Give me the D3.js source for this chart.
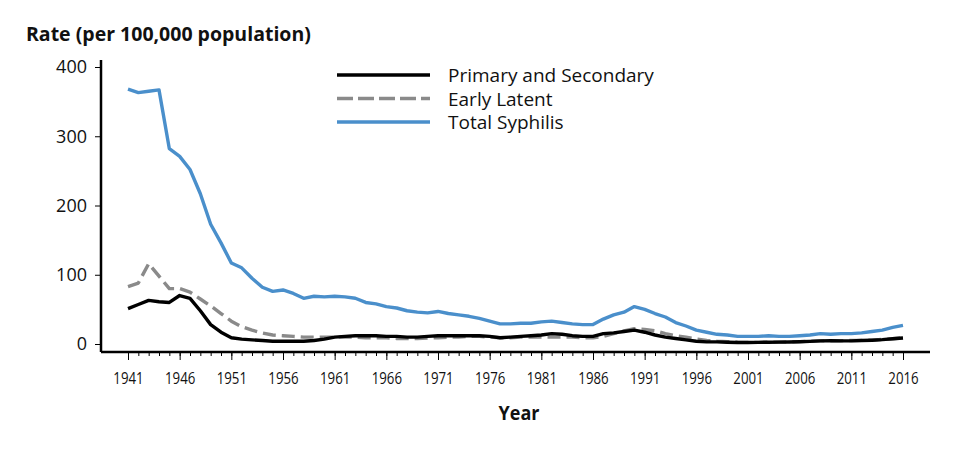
<!DOCTYPE html>
<html>
<head>
<meta charset="utf-8">
<script src="https://cdn.jsdelivr.net/npm/d3@7"></script>
<style>
body { margin: 0; background: #fff; }
text { font-family: "Open Sans", "Noto Sans", sans-serif; fill: #111; }
</style>
</head>
<body>
<svg id="chart" width="960" height="450"></svg>
<script>
// rates per 100,000, 1941-2016
var years = d3.range(1941, 2017);
var primarySecondary = [51, 57, 63, 61, 60, 70, 66, 48, 28, 17, 9, 7, 6, 5, 4, 4, 4, 4, 5, 7,
  10, 11, 12, 12, 12, 11, 11, 10, 10, 11, 12, 12, 12, 12, 12, 11, 9, 10, 11, 12,
  13, 15, 14, 12, 11, 11, 15, 16, 18, 20, 17, 13, 10, 8, 6, 4, 3, 3, 2.5, 2.1,
  2.1, 2.4, 2.5, 2.7, 2.9, 3.3, 3.8, 4.5, 4.6, 4.5, 4.5, 5, 5.5, 6.3, 7.5, 8.7];
var earlyLatent = [83, 88, 116, 98, 80, 80, 75, 65, 55, 44, 33, 25, 20, 16, 13, 12, 11, 10, 10, 10,
  10, 10, 10, 9, 9, 9, 8, 8, 8, 8.5, 9, 10, 10, 11, 11, 10, 9, 9, 10, 10,
  10, 10, 10, 10, 9, 9, 11, 15, 19, 22, 21, 19, 15, 12, 10, 7, 5, 4, 3.5, 2.7,
  2.4, 2.3, 2.5, 2.8, 3, 3.5, 4, 4.5, 4.7, 4.8, 5, 5.2, 5.5, 6.5, 7.5, 9];
var totalSyphilis = [368, 363, 365, 367, 282, 271, 252, 217, 173, 146, 117, 110, 95, 82, 76, 78, 73, 66, 69, 68,
  69, 68, 66, 60, 58, 54, 52, 48, 46, 45, 47, 44, 42, 40, 37, 33, 29, 29, 30, 30,
  32, 33, 31, 29, 28, 28, 36, 42, 46, 54, 50, 44, 39, 31, 26, 20, 17, 14, 13, 11,
  11, 11, 12, 11, 11, 12, 13, 15, 14, 15, 15, 16, 18, 20, 24, 27];
var yTicks = [0, 100, 200, 300, 400];
var xLabelYears = d3.range(1941, 2017, 5);

var series = [
  { name: "Primary and Secondary", values: primarySecondary, color: "#000", dash: null },
  { name: "Early Latent", values: earlyLatent, color: "#8a8a8a", dash: "13,6" },
  { name: "Total Syphilis", values: totalSyphilis, color: "#4a8fcb", dash: null }
];

var svg = d3.select("#chart");

var x = d3.scaleLinear().domain([1941, 2016]).range([128, 903]);
var y = d3.scaleLinear().domain([0, 400]).range([344, 67]);

var axisLeft = 101, axisBottom = 352;

// y axis
svg.append("line").attr("x1", axisLeft).attr("x2", axisLeft)
  .attr("y1", 60).attr("y2", axisBottom)
  .attr("stroke", "#000").attr("stroke-width", 2.5);
var yAxis = d3.axisLeft(y).tickValues(yTicks).tickSize(6).tickPadding(8);
var gy = svg.append("g").attr("transform", "translate(" + axisLeft + ",0)").call(yAxis);
gy.select(".domain").remove();
gy.selectAll("text").style("font-size", "18px").attr("font-family", "Open Sans");

// x axis
svg.append("line").attr("x1", axisLeft).attr("x2", 930)
  .attr("y1", axisBottom).attr("y2", axisBottom)
  .attr("stroke", "#000").attr("stroke-width", 2.5);
var gxMinor = svg.append("g").attr("transform", "translate(0," + axisBottom + ")")
  .call(d3.axisBottom(x).tickValues(years).tickSize(4).tickFormat(""));
gxMinor.select(".domain").remove();
var gx = svg.append("g").attr("transform", "translate(0," + axisBottom + ")")
  .call(d3.axisBottom(x).tickValues(xLabelYears).tickSize(8).tickPadding(12).tickFormat(d3.format("d")));
gx.select(".domain").remove();
gx.selectAll("text").style("font-size", "17px").attr("transform", "scale(0.78,1)");

// lines
var line = d3.line().x(function (d, i) { return x(years[i]); }).y(function (d) { return y(d); });
[series[2], series[1], series[0]].forEach(function (s) {
  svg.append("path").datum(s.values)
    .attr("d", line)
    .attr("fill", "none")
    .attr("stroke", s.color)
    .attr("stroke-width", 3.4)
    .attr("stroke-linejoin", "round")
    .attr("stroke-dasharray", s.dash);
});

// legend
var legend = svg.append("g");
series.forEach(function (s, i) {
  var ly = 75 + i * 23.5;
  legend.append("line").attr("x1", 337).attr("x2", 430).attr("y1", ly).attr("y2", ly)
    .attr("stroke", s.color).attr("stroke-width", 3.4).attr("stroke-dasharray", s.dash ? "16,5" : null);
  legend.append("text").attr("x", 448).attr("y", ly + 7).style("font-size", "19px").text(s.name);
});

// titles
svg.append("text").attr("x", 26).attr("y", 41).style("font-size", "19.5px").style("font-weight", "bold")
  .text("Rate (per 100,000 population)");
svg.append("text").attr("x", 519).attr("y", 420).attr("text-anchor", "middle")
  .style("font-size", "20px").style("font-weight", "bold").attr("transform", "translate(519,0) scale(0.9,1) translate(-519,0)")
  .text("Year");
</script>
</body>
</html>
